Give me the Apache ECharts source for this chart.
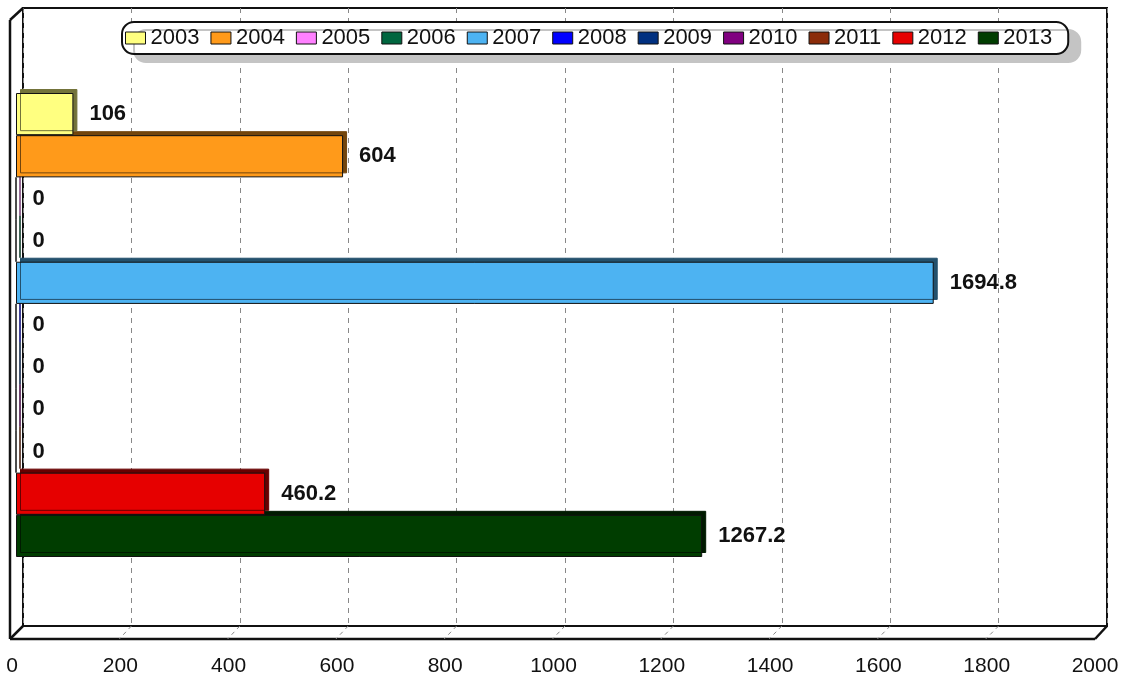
<!DOCTYPE html>
<html>
<head>
<meta charset="utf-8">
<script src="https://cdn.jsdelivr.net/npm/echarts@6/dist/echarts.min.js"></script>
<style>
html,body{margin:0;padding:0;background:#fff;}
#chart{width:1122px;height:678px;}
</style>
</head>
<body>
<div id="chart"></div>
<script>
// ---- data ----
const years = ['2003','2004','2005','2006','2007','2008','2009','2010','2011','2012','2013'];
const values = [106, 604, 0, 0, 1694.8, 0, 0, 0, 0, 460.2, 1267.2];
const xTicks = [0, 200, 400, 600, 800, 1000, 1200, 1400, 1600, 1800, 2000];
const categories = [''];

// ---- style ----
const colors = ['#FFFF80','#FF9A1A','#FF80FF','#00663F','#4DB3F2','#0000FF','#003080','#800080','#8B2C0A','#E60000','#003D00'];
function darker(hex, f) {
  const n = parseInt(hex.slice(1), 16);
  const r = Math.round(((n >> 16) & 255) * f), g = Math.round(((n >> 8) & 255) * f), b = Math.round((n & 255) * f);
  return 'rgb(' + r + ',' + g + ',' + b + ')';
}
const FONT = '"Liberation Sans", Arial, sans-serif';
const AX_MIN = xTicks[0], AX_MAX = xTicks[xTicks.length - 1], AX_INT = xTicks[1] - xTicks[0];

const chart = echarts.init(document.getElementById('chart'), null, {renderer: 'canvas'});

const series = years.map((y, i) => ({
  name: y,
  type: 'bar',
  xAxisIndex: 0,
  yAxisIndex: 0,
  data: [values[i]],
  barGap: '0%',
  barCategoryGap: '0%',
  z: 20 - i,
  itemStyle: {
    color: colors[i],
    borderColor: '#111',
    borderWidth: 1,
    shadowColor: darker(colors[i], 0.45),
    shadowBlur: 0,
    shadowOffsetX: 4,
    shadowOffsetY: -4
  },
  label: {
    show: true,
    position: 'right',
    distance: 16,
    fontFamily: FONT,
    fontSize: 22,
    fontWeight: 'bold',
    color: '#111'
  },
  emphasis: {disabled: true},
  animation: false
}));

const option = {
  animation: false,
  backgroundColor: '#fff',
  legend: {
    data: years,
    left: 122,
    top: 22,
    orient: 'horizontal',
    padding: [5, 16, 5, 3],
    itemGap: 11,
    itemWidth: 20,
    itemHeight: 12,
    icon: 'rect',
    backgroundColor: '#fff',
    borderColor: '#111',
    borderWidth: 2,
    borderRadius: 12,
    shadowColor: '#c4c4c4',
    shadowBlur: 0,
    shadowOffsetX: 12,
    shadowOffsetY: 8,
    itemStyle: {borderColor: '#111', borderWidth: 1, shadowColor: 'transparent', shadowOffsetX: 0, shadowOffsetY: 0},
    textStyle: {fontFamily: FONT, fontSize: 22, color: '#111'},
    selectedMode: false
  },
  grid: [
    {left: 16, top: 93, width: 1083, height: 464},            // bars
    {left: 23, top: 8, width: 1084, height: 618, show: true, borderColor: '#111', borderWidth: 2, backgroundColor: 'transparent'}, // back wall
    {left: 12, top: 638, width: 1083, height: 1}              // front axis labels
  ],
  xAxis: [
    {gridIndex: 0, type: 'value', min: AX_MIN, max: AX_MAX, interval: AX_INT, show: false},
    {gridIndex: 1, type: 'value', min: AX_MIN, max: AX_MAX, interval: AX_INT,
      axisLine: {show: false}, axisTick: {show: false}, axisLabel: {show: false},
      splitLine: {show: true, lineStyle: {color: '#888', type: [5, 5], width: 1}}},
    {gridIndex: 2, type: 'value', min: AX_MIN, max: AX_MAX, interval: AX_INT,
      axisLine: {show: false}, axisTick: {show: false}, splitLine: {show: false},
      axisLabel: {show: true, margin: 17, fontFamily: FONT, fontSize: 21, color: '#111',
        formatter: v => String(v)}}
  ],
  yAxis: [
    {gridIndex: 0, type: 'category', data: categories, inverse: true, show: false},
    {gridIndex: 1, type: 'value', show: false},
    {gridIndex: 2, type: 'value', show: false}
  ],
  series: series
};
chart.setOption(option);

// ---- 3D frame decoration derived from the axes ----
function px(axisIdx, v) { return chart.convertToPixel({xAxisIndex: axisIdx}, v); }
const backL = px(1, AX_MIN), backR = px(1, AX_MAX);
const frontL = px(2, AX_MIN) - 2, frontR = px(2, AX_MAX);
const backTop = 8, backBot = 626, frontTop = 20, frontBot = 639;
const lineStyle = {stroke: '#111', lineWidth: 2.5};
const g = [];
function seg(x1, y1, x2, y2, st) { g.push({type: 'line', shape: {x1, y1, x2, y2}, style: st || lineStyle, z: 50, silent: true}); }
seg(frontL, frontTop, frontL, frontBot);
seg(frontL, frontTop, backL, backTop);
seg(frontL, frontBot, backL, backBot);
seg(frontL, frontBot, frontR, frontBot);
seg(frontR, frontBot, backR, backBot);
// floor dashes
xTicks.slice(1, -1).forEach(t => {
  seg(px(1, t), backBot, px(2, t) - 1, frontBot, {stroke: '#888', lineWidth: 1, lineDash: [4, 4]});
});
chart.setOption({graphic: g});
</script>
</body>
</html>
